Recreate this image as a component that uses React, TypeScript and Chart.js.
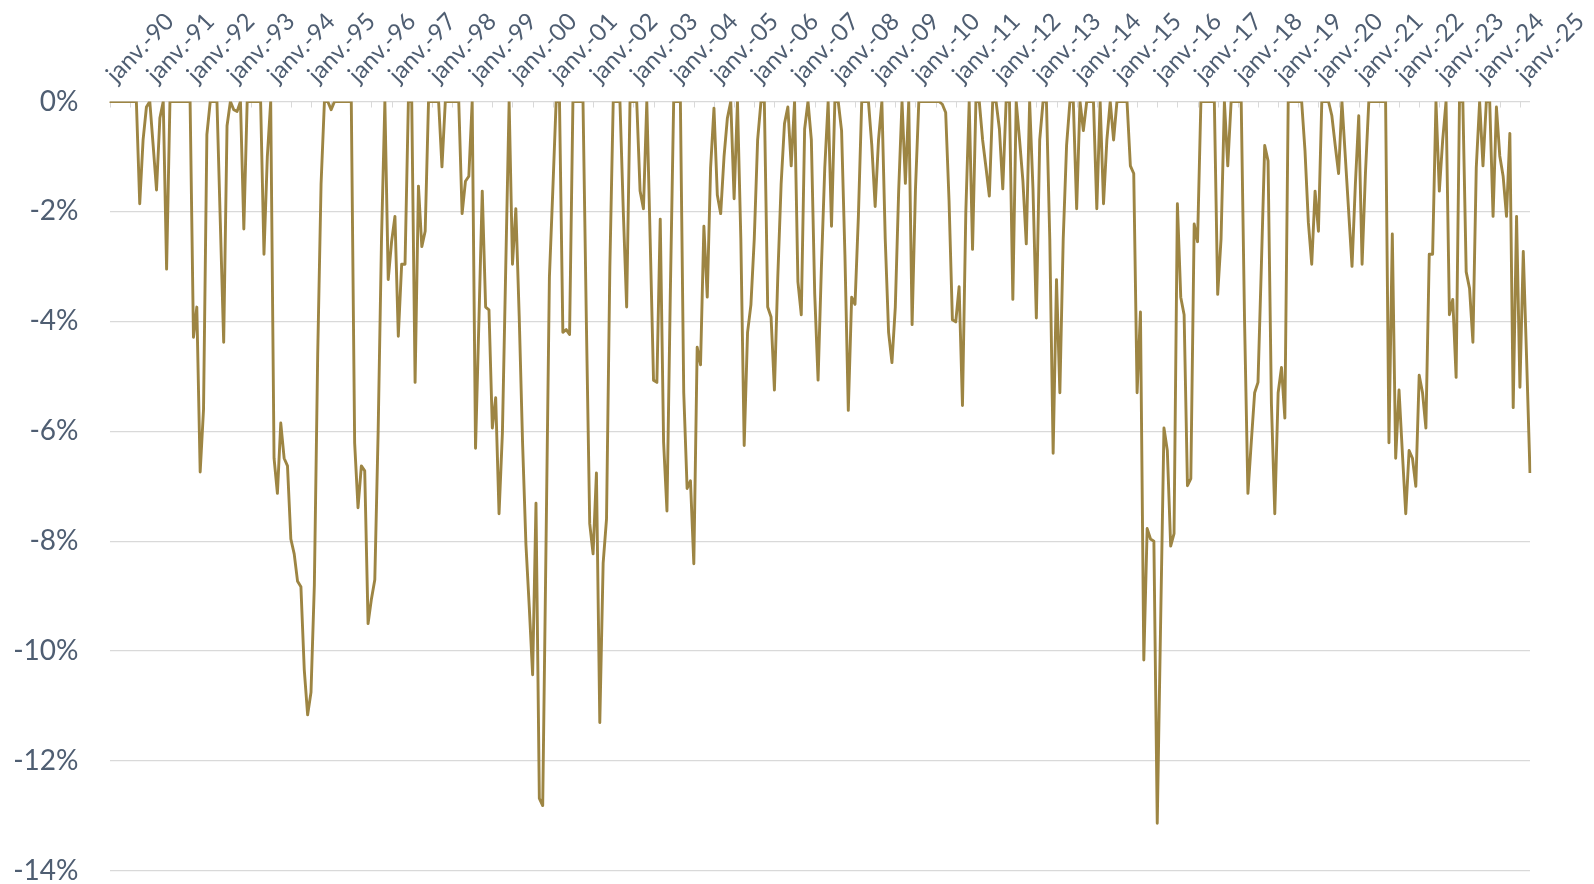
import React, { useEffect, useRef } from 'react';
import { Chart, registerables } from 'chart.js';

Chart.register(...registerables);

// Month abbreviations (French) and year span used to build the category axis
const monthAbbr = ['janv.', 'févr.', 'mars', 'avr.', 'mai', 'juin', 'juil.', 'août', 'sept.', 'oct.', 'nov.', 'déc.'];
const firstYear = 1990;

// Drawdown values in %, one value per month
const dd1990s = [
  0, 0, 0, 0, 0, 0, 0, 0, 0, -1.86, -0.7, -0.1, // 1990
  0, -0.8, -1.61, -0.3, 0, -3.05, 0, 0, 0, 0, 0, 0, // 1991
  0, -4.29, -3.74, -6.74, -5.6, -0.6, 0, 0, 0, -2.2, -4.38, -0.44, // 1992
  0, -0.15, -0.18, 0, -2.32, 0, 0, 0, 0, 0, -2.78, -1.0, // 1993
  0, -6.49, -7.13, -5.85, -6.49, -6.63, -7.96, -8.23, -8.73, -8.83, -10.34, -11.16, // 1994
  -10.75, -8.8, -4.6, -1.5, 0, 0, -0.15, 0, 0, 0, 0, 0, // 1995
  0, -6.21, -7.39, -6.63, -6.72, -9.5, -9.05, -8.7, -6.0, -2.5, 0, -3.24, // 1996
  -2.55, -2.09, -4.27, -2.96, -2.96, 0, 0, -5.11, -1.54, -2.64, -2.36, 0, // 1997
  0, 0, 0, -1.19, 0, 0, 0, 0, 0, -2.04, -1.45, -1.36, // 1998
  0, -6.31, -4.0, -1.63, -3.74, -3.79, -5.94, -5.39, -7.5, -6.03, -3.0, 0, // 1999
];

const dd2000s = [
  -2.96, -1.95, -3.9, -6.2, -8.05, -9.2, -10.43, -7.31, -12.68, -12.81, -8.0, -3.19, // 2000
  -1.63, 0, 0, -4.2, -4.15, -4.24, 0, 0, 0, 0, -4.0, -7.68, // 2001
  -8.23, -6.76, -11.3, -8.4, -7.6, -3.0, 0, 0, 0, -2.0, -3.74, 0, // 2002
  0, 0, -1.63, -1.95, 0, -2.5, -5.07, -5.11, -2.14, -6.2, -7.45, -3.5, // 2003
  0, 0, 0, -5.3, -7.04, -6.9, -8.41, -4.47, -4.79, -2.27, -3.56, -1.2, // 2004
  -0.12, -1.7, -2.04, -1.0, -0.3, 0, -1.77, 0, -2.5, -6.26, -4.2, -3.7, // 2005
  -2.5, -0.7, 0, 0, -3.74, -3.92, -5.25, -3.2, -1.5, -0.4, -0.1, -1.17, // 2006
  0, -3.28, -3.88, -0.5, 0, -0.7, -3.5, -5.07, -3.0, -1.2, 0, -2.27, // 2007
  0, 0, -0.53, -2.8, -5.62, -3.56, -3.69, -2.1, 0, 0, 0, -0.8, // 2008
  -1.91, -0.7, 0, -2.5, -4.2, -4.75, -3.74, -1.63, 0, -1.49, 0, -4.06, // 2009
];

const dd2010s = [
  -1.6, 0, 0, 0, 0, 0, 0, 0, -0.05, -0.2, -1.8, -3.97, // 2010
  -4.01, -3.37, -5.53, -2.0, 0, -2.69, 0, 0, -0.7, -1.2, -1.72, 0, // 2011
  0, -0.5, -1.59, 0, 0, -3.6, 0, -0.7, -1.45, -2.59, 0, -1.6, // 2012
  -3.94, -0.7, 0, 0, -2.5, -6.4, -3.24, -5.3, -2.5, -0.8, 0, 0, // 2013
  -1.95, 0, -0.53, 0, 0, 0, -1.95, 0, -1.86, -0.7, 0, -0.7, // 2014
  0, 0, 0, 0, -1.17, -1.31, -5.3, -3.83, -10.16, -7.77, -7.96, -8.0, // 2015
  -13.13, -9.5, -5.94, -6.35, -8.09, -7.86, -1.86, -3.56, -3.88, -6.99, -6.86, -2.23, // 2016
  -2.55, 0, 0, 0, 0, 0, -3.51, -2.5, 0, -1.17, 0, 0, // 2017
  0, 0, -4.0, -7.13, -6.2, -5.3, -5.11, -3.0, -0.8, -1.08, -5.5, -7.5, // 2018
  -5.3, -4.84, -5.76, 0, 0, 0, 0, 0, -0.9, -2.2, -2.96, -1.63, // 2019
];

const dd2020s = [
  -2.36, 0, 0, 0, -0.26, -0.8, -1.31, 0, -1.0, -2.0, -3.0, -1.5, // 2020
  -0.26, -2.96, -1.3, 0, 0, 0, 0, 0, 0, -6.21, -2.41, -6.49, // 2021
  -5.25, -6.4, -7.5, -6.35, -6.49, -7.0, -4.98, -5.3, -5.94, -2.78, -2.78, 0, // 2022
  -1.63, -0.7, 0, -3.88, -3.6, -5.02, 0, 0, -3.1, -3.4, -4.38, -1.2, // 2023
  0, -1.17, 0, 0, -2.09, -0.1, -0.99, -1.36, -2.09, -0.58, -5.57, -2.09, // 2024
  -5.2, -2.73, -4.7, -6.76, // 2025
];

// Y-axis ticks
const yMin = -14;
const yMax = 0;
const yStep = 2;

const values = [...dd1990s, ...dd2000s, ...dd2010s, ...dd2020s];
const labels = values.map((_, i) => {
  const year = firstYear + Math.floor(i / 12);
  return `${monthAbbr[i % 12]}-${String(year % 100).padStart(2, '0')}`;
});

const TEXT = '#4f5e72';
const LINE = '#9d8543';
const GRID = '#d9d9d9';

const tickMarks = {
  id: 'tickMarks',
  beforeDatasetsDraw(chart: any) {
    const xs = chart.scales.x;
    const top = chart.chartArea.top;
    const ctx = chart.ctx;
    ctx.save();
    ctx.strokeStyle = GRID;
    ctx.lineWidth = 1;
    for (let i = 0; i < labels.length; i += 6) {
      const px = Math.round(xs.getPixelForValue(i)) + 0.5;
      ctx.beginPath();
      ctx.moveTo(px, top);
      ctx.lineTo(px, top + 6);
      ctx.stroke();
    }
    ctx.restore();
  },
};

export default function App() {
  const ref = useRef<HTMLCanvasElement | null>(null);

  useEffect(() => {
    if (!ref.current) return;
    const chart = new Chart(ref.current, {
      type: 'line',
      data: {
        labels,
        datasets: [
          {
            data: values,
            borderColor: LINE,
            backgroundColor: LINE,
            borderWidth: 2.9,
            pointRadius: 0,
            tension: 0,
            borderJoinStyle: 'round',
            fill: false,
          },
        ],
      },
      options: {
        animation: false,
        responsive: false,
        devicePixelRatio: 1,
        layout: { padding: { left: 0, right: 64, top: 0, bottom: 13 } },
        plugins: {
          legend: { display: false },
          tooltip: { enabled: false },
        },
        scales: {
          x: {
            type: 'category',
            position: 'top',
            offset: false,
            grid: { display: false, drawTicks: false },
            border: { display: false },
            ticks: {
              autoSkip: false,
              minRotation: 46,
              maxRotation: 46,
              padding: 13,
              labelOffset: 22,
              color: TEXT,
              font: { family: 'Lato', size: 24 },
              callback: (_v: any, i: number) => (i % 12 === 0 ? labels[i] : ''),
            },
            afterFit: (s: any) => {
              s.height = 101.5;
              s.paddingLeft = 0;
              s.paddingRight = 0;
            },
          },
          y: {
            min: yMin,
            max: yMax,
            grid: { color: GRID, lineWidth: 1.3, drawTicks: false },
            border: { display: false },
            ticks: {
              stepSize: yStep,
              padding: 31,
              color: TEXT,
              font: { family: 'Lato', size: 28 },
              callback: (v: any) => `${v}%`,
            },
            afterFit: (s: any) => {
              s.width = 109.5;
              s.paddingTop = 0;
              s.paddingBottom = 0;
            },
          },
        },
      },
      plugins: [tickMarks],
    });
    return () => chart.destroy();
  }, []);

  return (
    <div style={{ position: 'absolute', left: 0, top: 0, width: 1594, height: 884, background: '#fff' }}>
      <canvas ref={ref} width={1594} height={884} />
    </div>
  );
}
